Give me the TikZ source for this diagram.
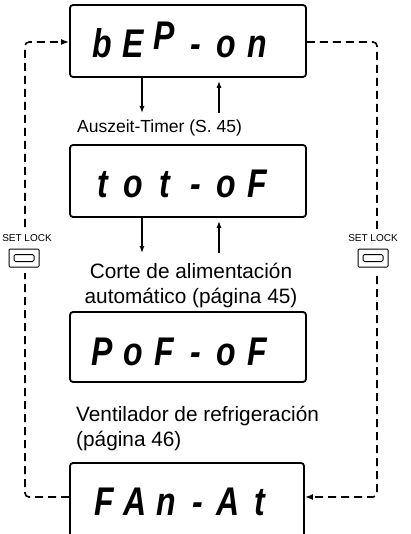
\documentclass[tikz,border=0pt]{standalone}
\usepackage{fontspec}
\setmainfont{Liberation Sans}
\newfontfamily\lcdfont{Liberation Sans}[FakeStretch=0.8]
\usetikzlibrary{arrows.meta}
\newcommand\lc[1]{\makebox[31pt]{#1}}
\begin{document}
\begin{tikzpicture}[x=1pt,y=-1pt,
  lcdbox/.style={draw,line width=1.8pt,rounded corners=3pt,inner sep=0pt},
  lcdtext/.style={font=\lcdfont\bfseries\itshape\fontsize{40}{40}\selectfont,inner sep=0pt,anchor=base},
  lblsmall/.style={font=\fontsize{17.5}{21}\selectfont,inner sep=0pt},
  lbl/.style={font=\fontsize{20.8}{25}\selectfont,inner sep=0pt},
  steparrow/.style={line width=1.2pt,-{Latex[length=7pt,width=5pt]}},
  looparrow/.style={dash pattern=on 8pt off 5pt,line width=1.6pt,rounded corners=4pt,-{Latex[length=8pt,width=6pt]}},
  keytext/.style={font=\fontsize{10}{10}\selectfont,inner sep=0pt},
  keyouter/.style={draw,line width=1pt,rounded corners=1pt,minimum width=30pt,minimum height=18pt,inner sep=0pt},
  keyinner/.style={draw,line width=1pt,rounded corners=1.5pt,minimum width=20pt,minimum height=7pt,inner sep=0pt}
]
\useasboundingbox (0,0) rectangle (410,534);

% display boxes
\node[lcdbox,minimum width=236pt,minimum height=72pt] (b1) at (188,41) {};
\node[lcdbox,minimum width=236pt,minimum height=72pt] (b2) at (188,181) {};
\node[lcdbox,minimum width=236pt,minimum height=70pt] (b3) at (188,347) {};
\node[lcdbox,minimum width=234pt,minimum height=82pt] (b4) at (187,504) {};

% display readouts
\node[lcdtext] (t1) at (180,58) {\lc{b}\lc{E}\lc{\raisebox{8pt}{P}}\lc{-}\lc{o}\lc{n}};
\node[lcdtext] (t2) at (180,198) {\lc{t}\lc{o}\lc{t}\lc{-}\lc{o}\lc{F}};
\node[lcdtext] (t3) at (180,365) {\lc{P}\lc{o}\lc{F}\lc{-}\lc{o}\lc{F}};
\node[lcdtext] (t4) at (182,515) {\lc{F}\lc{A}\lc{n}\lc{-}\lc{A}\lc{t}};

% labels
\node[lblsmall,anchor=base west] (lab1) at (77,133) {Auszeit-Timer (S. 45)};
\node[lbl,align=center,anchor=base] (lab2) at (191,303) {Corte de alimentación\\automático (página 45)};
\node[lbl,align=left,anchor=base west] (lab3) at (76,446) {Ventilador de refrigeración\\(página 46)};

% short arrows
\coordinate (d1) at (142,113);
\coordinate (u1) at (219,113);
\coordinate (d2) at (142,253);
\coordinate (u2) at (219,253);
\draw[steparrow] (b1.south -| d1) -- (d1);
\draw[steparrow,shorten >=3pt] (u1) -- (b1.south -| u1);
\draw[steparrow] (b2.south -| d2) -- (d2);
\draw[steparrow,shorten >=3pt] (u2) -- (b2.south -| u2);

% SET LOCK keys
\node[keytext] (k1t) at (27,238) {SET LOCK};
\node[keyouter] (k1) at (24,258) {};
\node[keyinner] (k1i) at (k1) {};
\node[keytext] (k2t) at (373,238) {SET LOCK};
\node[keyouter] (k2) at (373,258) {};
\node[keyinner] (k2i) at (k2) {};

% dashed loops
\coordinate (lb) at (25,497);
\coordinate (lt) at (25,42);
\coordinate (lg1) at (25,273);
\coordinate (lg2) at (25,227);
\draw[looparrow] (lb -| b4.west) -- (lb) -- (lg1) (lg2) -- (lt) -- (lt -| b1.west);
\coordinate (rt) at (377,42);
\coordinate (rb) at (377,497);
\coordinate (rg1) at (377,230);
\coordinate (rg2) at (377,276);
\draw[looparrow] (rt -| b1.east) -- (rt) -- (rg1) (rg2) -- (rb) -- (rb -| b4.east);
\end{tikzpicture}
\end{document}
